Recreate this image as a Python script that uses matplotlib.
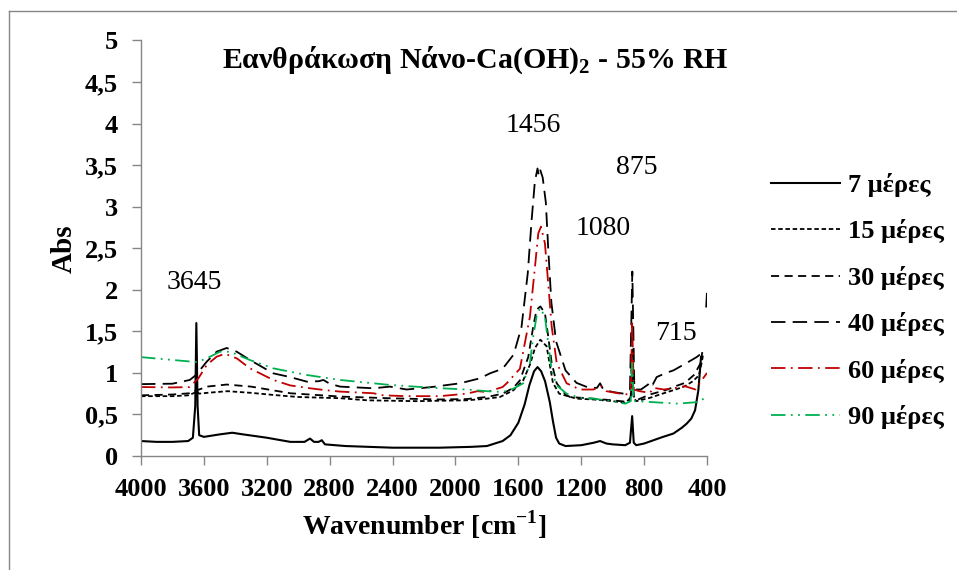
import matplotlib
matplotlib.use('Agg')
import matplotlib.pyplot as plt
from matplotlib.lines import Line2D

nan = float('nan')

# ---------------- data ----------------
series_labels = ['7 μέρες', '15 μέρες', '30 μέρες', '40 μέρες', '60 μέρες', '90 μέρες']

wn_7 = [4000, 3900, 3800, 3700, 3670, 3655, 3648, 3640, 3630, 3600, 3500, 3420, 3350,
        3200, 3050, 2960, 2925, 2900, 2870, 2850, 2830, 2700, 2400, 2100, 1900, 1800,
        1700, 1650, 1600, 1560, 1530, 1500, 1478, 1455, 1430, 1400, 1380, 1360, 1340,
        1300, 1200, 1120, 1080, 1040, 1000, 920, 890, 876, 866, 850, 800, 740, 680,
        614, 560, 529, 500, 476, 455, 438, 420, 404, 400]
abs_7 = [0.18, 0.17, 0.17, 0.18, 0.22, 0.60, 1.60, 0.60, 0.25, 0.23, 0.26, 0.28, 0.26,
         0.22, 0.17, 0.17, 0.21, 0.17, 0.17, 0.19, 0.14, 0.12, 0.10, 0.10, 0.11, 0.12,
         0.18, 0.25, 0.40, 0.62, 0.85, 1.02, 1.07, 1.02, 0.90, 0.65, 0.42, 0.22, 0.15,
         0.12, 0.13, 0.16, 0.18, 0.15, 0.14, 0.13, 0.16, 0.48, 0.16, 0.13, 0.15, 0.19, 0.23,
         0.27, 0.34, 0.39, 0.45, 0.55, 0.79, 1.19, nan, 1.80, 1.95]

wn_15 = [4000, 3800, 3700, 3660, 3645, 3630, 3580, 3450, 3300, 3160, 3000, 2730, 2560,
         2250, 2100, 1930, 1800, 1717, 1632, 1569, 1526, 1494, 1460, 1420, 1400, 1380,
         1340, 1230, 1120, 1000, 920, 885, 876, 866, 850, 763, 700, 651, 600, 540, 490,
         451, 432, 425]
abs_15 = [0.72, 0.72, 0.73, 0.76, 0.78, 0.75, 0.76, 0.78, 0.76, 0.735, 0.71, 0.695, 0.67,
          0.66, 0.665, 0.67, 0.69, 0.71, 0.79, 0.91, 1.10, 1.30, 1.40, 1.32, 1.10, 0.88,
          0.75, 0.69, 0.68, 0.66, 0.64, 0.70, 1.05, 0.70, 0.66, 0.70, 0.74, 0.77, 0.80,
          0.84, 0.90, 0.97, 1.14, 1.22]

wn_30 = [4000, 3800, 3690, 3650, 3630, 3580, 3455, 3300, 3050, 2730, 2420, 2100, 1930,
         1800, 1700, 1632, 1590, 1537, 1505, 1484, 1460, 1431, 1410, 1388, 1356, 1300,
         1272, 1123, 1000, 900, 885, 876, 866, 850, 763, 651, 600, 540, 480, 440, 430]
abs_30 = [0.73, 0.74, 0.755, 0.79, 0.80, 0.835, 0.86, 0.835, 0.755, 0.715, 0.695, 0.68,
          0.685, 0.71, 0.75, 0.82, 0.91, 1.19, 1.56, 1.76, 1.80, 1.72, 1.44, 1.12, 0.875,
          0.74, 0.71, 0.69, 0.67, 0.65, 0.72, 1.30, 0.72, 0.67, 0.74, 0.80, 0.84, 0.88,
          0.98, 1.12, 1.25]

wn_40 = [4000, 3800, 3690, 3650, 3582, 3519, 3455, 3391, 3307, 3159, 3052, 2946, 2870,
         2840, 2800, 2734, 2520, 2416, 2310, 2150, 1970, 1844, 1780, 1700, 1630, 1580,
         1540, 1515, 1495, 1478, 1470, 1462, 1445, 1425, 1410, 1390, 1360, 1300, 1230,
         1150, 1100, 1080, 1060, 1000, 930, 890, 875, 862, 820, 775, 760, 745, 720, 660,
         614, 529, 466, 445]
abs_40 = [0.865, 0.87, 0.915, 0.975, 1.135, 1.255, 1.30, 1.255, 1.155, 0.995, 0.95,
          0.895, 0.90, 0.915, 0.87, 0.835, 0.815, 0.835, 0.80, 0.83, 0.875, 0.935, 0.995,
          1.05, 1.22, 1.55, 2.20, 2.85, 3.30, 3.46, 3.38, 3.45, 3.35, 3.05, 2.50, 1.85,
          1.38, 1.03, 0.88, 0.82, 0.82, 0.875, 0.80, 0.77, 0.75, 0.80, 2.22, 0.80, 0.80,
          0.86, 0.90, 0.86, 0.95, 1.00, 1.03, 1.12, 1.19, 1.22]

wn_60 = [4000, 3800, 3690, 3635, 3582, 3519, 3466, 3391, 3307, 3159, 3052, 2946, 2840,
         2734, 2522, 2459, 2310, 2100, 1929, 1860, 1801, 1700, 1674, 1590, 1526, 1494,
         1473, 1456, 1431, 1410, 1388, 1356, 1293, 1208, 1123, 1075, 1040, 950, 896, 885,
         876, 866, 830, 763, 740, 674, 600, 540, 473, 430, 400]
abs_60 = [0.83, 0.825, 0.83, 0.935, 1.095, 1.195, 1.23, 1.175, 1.055, 0.915, 0.85, 0.82,
          0.795, 0.775, 0.755, 0.73, 0.72, 0.72, 0.75, 0.78, 0.77, 0.83, 0.875, 1.05, 1.68,
          2.28, 2.68, 2.76, 2.56, 2.08, 1.56, 1.12, 0.875, 0.80, 0.80, 0.84, 0.78, 0.75,
          0.74, 0.78, 1.62, 0.80, 0.78, 0.76, 0.82, 0.80, 0.82, 0.84, 0.80, 0.92, 1.00]

wn_90 = [4000, 3796, 3645, 3582, 3498, 3434, 3307, 3159, 2946, 2734, 2416, 2141, 1929,
         1801, 1700, 1632, 1569, 1526, 1505, 1484, 1462, 1431, 1410, 1388, 1356, 1293,
         1208, 1123, 1000, 919, 885, 876, 866, 763, 585, 451, 400]
abs_90 = [1.19, 1.155, 1.13, 1.175, 1.255, 1.255, 1.155, 1.055, 0.975, 0.915, 0.855, 0.82,
          0.80, 0.78, 0.77, 0.81, 0.875, 1.12, 1.44, 1.68, 1.78, 1.68, 1.36, 1.03, 0.85,
          0.75, 0.70, 0.69, 0.66, 0.63, 0.66, 1.13, 0.66, 0.65, 0.63, 0.65, 0.72]

peak_labels = ['3645', '1456', '875', '1080', '715']

x_ticks = [4000, 3600, 3200, 2800, 2400, 2000, 1600, 1200, 800, 400]
y_ticks = [0, 0.5, 1, 1.5, 2, 2.5, 3, 3.5, 4, 4.5, 5]
y_tick_labels = ['0', '0,5', '1', '1,5', '2', '2,5', '3', '3,5', '4', '4,5', '5']

# ---------------- style ----------------
plt.rcParams['font.family'] = ['Liberation Serif', 'DejaVu Serif']
plt.rcParams['mathtext.fontset'] = 'custom'
plt.rcParams['mathtext.rm'] = 'Liberation Serif'
plt.rcParams['mathtext.bf'] = 'Liberation Serif:bold'

RED = '#C00000'
GREEN = '#00B050'
GRAY = '#868686'

fig = plt.figure(figsize=(9.57, 5.70), dpi=100)
ax = fig.add_axes([141 / 957, 114 / 570, 566 / 957, 415.5 / 570])

lw = 1.3
ax.plot(wn_7, abs_7, color='black', lw=1.5, ls='-', label=series_labels[0])
ax.plot(wn_15, abs_15, color='black', lw=lw, dashes=(2.5, 1.5), label=series_labels[1])
ax.plot(wn_30, abs_30, color='black', lw=lw, dashes=(4.5, 3), label=series_labels[2])
ax.plot(wn_40, abs_40, color='black', lw=lw, dashes=(8, 4), label=series_labels[3])
ax.plot(wn_60, abs_60, color=RED, lw=lw, dashes=(8, 3, 1, 3), label=series_labels[4])
ax.plot(wn_90, abs_90, color=GREEN, lw=lw, dashes=(8, 3, 1, 3, 1, 3), label=series_labels[5])

ax.set_xlim(4000, 400)
ax.set_ylim(0, 5)
ax.set_xticks(x_ticks)
ax.set_xticklabels([str(t) for t in x_ticks])
ax.set_yticks(y_ticks)
ax.set_yticklabels(y_tick_labels)

for s in ['top', 'right']:
    ax.spines[s].set_visible(False)
for s in ['left', 'bottom']:
    ax.spines[s].set_color(GRAY)
    ax.spines[s].set_linewidth(1.0)
ax.tick_params(axis='both', direction='out', length=6.5, width=1.0, color=GRAY,
               labelsize=19)
ax.tick_params(axis='x', pad=9)
ax.tick_params(axis='y', pad=10)
for lab in ax.get_xticklabels() + ax.get_yticklabels():
    lab.set_fontweight('bold')

ax.set_xlabel(r'Wavenumber [cm$^{\mathbf{-1}}$]', fontsize=20, fontweight='bold', labelpad=6)
ax.set_ylabel('Abs', fontsize=21, fontweight='bold', labelpad=5)

fig.text(475 / 957, 1 - 60 / 570, r'Εανθράκωση Νάνο-Ca(OH)$_\mathbf{2}$ - 55% RH',
         ha='center', va='center', fontsize=21.5, fontweight='bold')

# peak annotations
ann_pos = [(3663, 2.09), (1507, 3.98), (845, 3.47), (1062, 2.74), (598, 1.48)]
for txt, (xp, yp) in zip(peak_labels, ann_pos):
    ax.text(xp, yp, txt, ha='center', va='center', fontsize=20)

leg = ax.legend(loc='upper left', bbox_to_anchor=(771 / 957, 1 - 173 / 570),
                bbox_transform=fig.transFigure, frameon=False, fontsize=19,
                handlelength=2.6, handletextpad=0.3, labelspacing=0.85, borderpad=0,
                borderaxespad=0)
for t in leg.get_texts():
    t.set_fontweight('bold')

# outer frame (left and top edges visible)
fig.add_artist(Line2D([9 / 957, 9 / 957], [0, 1 - 11 / 570], color=GRAY, lw=1.0,
                      transform=fig.transFigure))
fig.add_artist(Line2D([9 / 957, 1], [1 - 11 / 570, 1 - 11 / 570], color=GRAY, lw=1.0,
                      transform=fig.transFigure))

fig.savefig('out.png', dpi=100)
